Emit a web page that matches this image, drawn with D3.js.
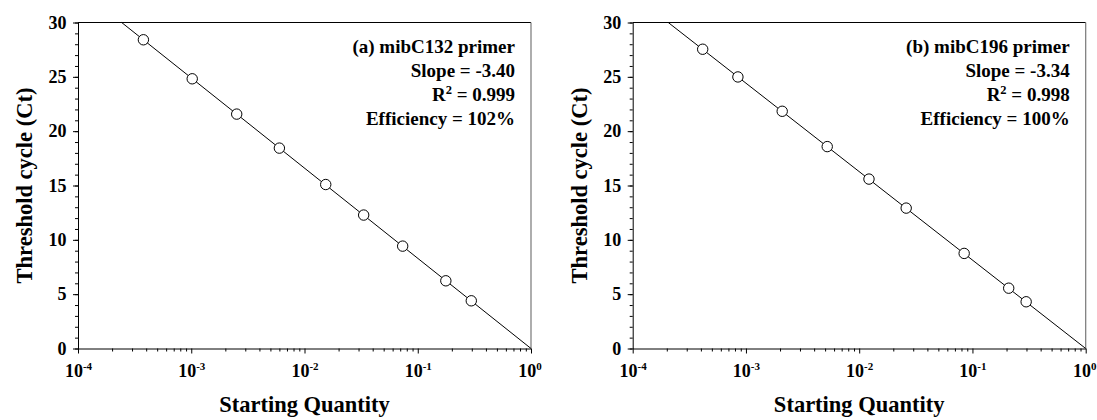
<!DOCTYPE html>
<html>
<head>
<meta charset="utf-8">
<script src="https://cdn.jsdelivr.net/npm/d3@7"></script>
<style>
  body { margin: 0; background: #fff; }
</style>
</head>
<body>
<svg id="chart"></svg>
<script>
// data
var qtyA = [3.78e-4, 1.02e-3, 2.52e-3, 6.0e-3, 0.0154, 0.0333, 0.0736, 0.177, 0.297];
var ctA = [28.41, 24.82, 21.57, 18.44, 15.09, 12.28, 9.42, 6.23, 4.39];
var fitQtyA = [2.43e-4, 1];
var fitCtA = [30, 0];
var labelA = ["(a) mibC132 primer", "Slope = -3.40", "R2 = 0.999", "Efficiency = 102%"];

var qtyB = [4.15e-4, 8.49e-4, 2.09e-3, 5.22e-3, 0.0122, 0.0260, 0.0845, 0.209, 0.298];
var ctB = [27.54, 24.99, 21.83, 18.58, 15.59, 12.92, 8.75, 5.55, 4.30];
var fitQtyB = [2.06e-4, 1];
var fitCtB = [30, 0];
var labelB = ["(b) mibC196 primer", "Slope = -3.34", "R2 = 0.998", "Efficiency = 100%"];

var xMajor = [1e-4, 1e-3, 1e-2, 1e-1, 1];
var yMajor = [0, 5, 10, 15, 20, 25, 30];

var serif = "'Liberation Serif', 'Times New Roman', serif";

var svg = d3.select("#chart")
  .attr("width", 1097)
  .attr("height", 420);

// set font on a text selection
function font(sel, size) {
  return sel.style("font-family", serif)
    .style("font-weight", "bold")
    .style("font-size", size + "px")
    .attr("fill", "#000");
}

function drawPanel(left, qty, ct, fitQty, fitCt, label) {
  var width = 453, height = 326, top = 22.5;
  var g = svg.append("g").attr("transform", "translate(" + left + "," + top + ")");

  var x = d3.scaleLog().domain([1e-4, 1]).range([0, width]);
  var y = d3.scaleLinear().domain([0, 30]).range([height, 0]);

  // minor ticks
  var xMinor = [];
  for (var e = -4; e < 0; e++) {
    for (var m = 2; m < 10; m++) xMinor.push(m * Math.pow(10, e));
  }
  g.append("g")
    .attr("transform", "translate(0," + height + ")")
    .call(d3.axisBottom(x).tickValues(xMinor).tickSize(3).tickFormat(""))
    .call(function(a) { a.select(".domain").remove(); });
  g.append("g")
    .call(d3.axisLeft(y).tickValues(d3.range(0, 31)).tickSize(3).tickFormat(""))
    .call(function(a) { a.select(".domain").remove(); });

  // major x axis
  var xAxis = g.append("g")
    .attr("transform", "translate(0," + height + ")")
    .call(d3.axisBottom(x).tickValues(xMajor).tickSize(5).tickSizeOuter(0).tickPadding(10.5).tickFormat(""));
  xAxis.selectAll(".tick text").each(function(d) {
    var t = font(d3.select(this), 18);
    t.append("tspan").text("10");
    t.append("tspan").style("font-size", "11px").attr("dy", -7).text(Math.round(Math.log10(d)));
    if (d === 1) t.attr("dx", -1.5);
  });

  // major y axis
  g.append("g")
    .call(d3.axisLeft(y).tickValues(yMajor).tickSize(5).tickSizeOuter(0).tickPadding(6.5))
    .selectAll(".tick text").call(font, 18);

  g.selectAll(".domain, .tick line").attr("stroke", "#000");

  // frame top / right
  g.append("line").attr("x1", 0).attr("x2", width).attr("y1", 0).attr("y2", 0)
    .attr("stroke", "#000");
  g.append("line").attr("x1", width).attr("x2", width).attr("y1", 0).attr("y2", height)
    .attr("stroke", "#777").attr("stroke-width", 1.2);

  // fit line
  var fit = fitQty.map(function(q, i) { return [q, fitCt[i]]; });
  g.append("path")
    .datum(fit)
    .attr("fill", "none")
    .attr("stroke", "#000")
    .attr("stroke-width", 1)
    .attr("d", d3.line().x(function(d) { return x(d[0]); }).y(function(d) { return y(d[1]); }));

  // points
  g.selectAll("circle")
    .data(qty.map(function(q, i) { return [q, ct[i]]; }))
    .enter().append("circle")
    .attr("cx", function(d) { return x(d[0]); })
    .attr("cy", function(d) { return y(d[1]); })
    .attr("r", 5.2)
    .attr("fill", "#fff")
    .attr("stroke", "#000")
    .attr("stroke-width", 1);

  // annotation
  label.forEach(function(s, i) {
    var t = g.append("text")
      .attr("x", width - 16)
      .attr("y", 30.5 + i * 24)
      .attr("text-anchor", "end")
      .call(font, 19);
    if (s.indexOf("R2") === 0) {
      t.append("tspan").text("R");
      t.append("tspan").style("font-size", "12.5px").attr("dy", -7).text("2");
      t.append("tspan").attr("dy", 7).text(s.slice(2));
    } else {
      t.text(s);
    }
  });

  // axis titles
  g.append("text")
    .attr("x", width / 2)
    .attr("y", height + 63.5)
    .style("text-anchor", "middle")
    .call(font, 22.5)
    .text("Starting Quantity");

  g.append("text")
    .attr("transform", "translate(" + (-46) + "," + (height / 2) + ") rotate(-90)")
    .style("text-anchor", "middle")
    .call(font, 22.5)
    .text("Threshold cycle (Ct)");
}

drawPanel(78, qtyA, ctA, fitQtyA, fitCtA, labelA);
drawPanel(632.7, qtyB, ctB, fitQtyB, fitCtB, labelB);
</script>
</body>
</html>
